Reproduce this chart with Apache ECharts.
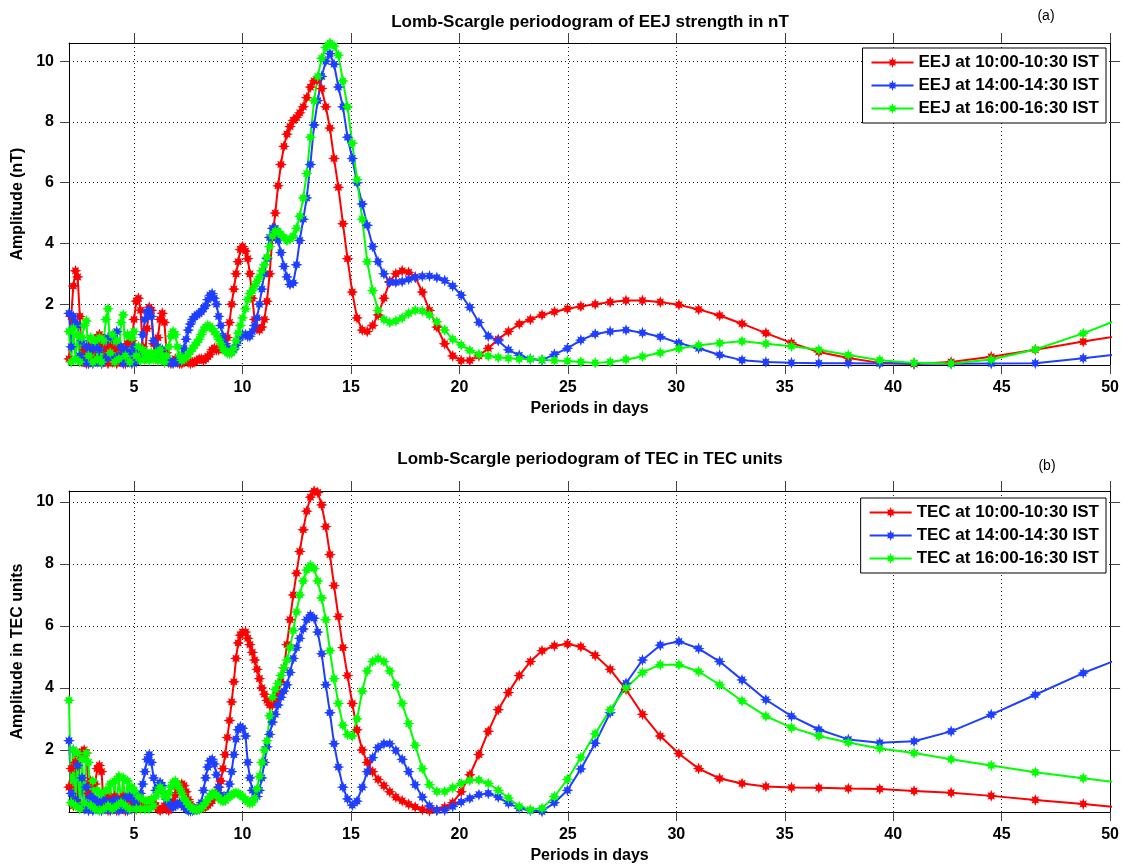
<!DOCTYPE html>
<html lang="en">
<head>
<meta charset="UTF-8">
<title>Lomb-Scargle periodograms</title>
<script src="https://cdn.jsdelivr.net/npm/echarts@6/dist/echarts.min.js"></script>
<style>
    html, body { margin: 0; padding: 0; background: #fff; }
    #box { width: 1122px; height: 865px; }
</style>
</head>
<body>
<div id="box"></div>
<script>
// periods in days (dense below 10 days, frequency grid above)
var periods = [
    2.0, 2.1, 2.2, 2.3, 2.4, 2.5, 2.6, 2.7, 2.8, 2.9,
    3.0, 3.1, 3.2, 3.3, 3.4, 3.5, 3.6, 3.7, 3.8, 3.9,
    4.0, 4.1, 4.2, 4.3, 4.4, 4.5, 4.6, 4.7, 4.8, 4.9,
    5.0, 5.1, 5.2, 5.3, 5.4, 5.5, 5.6, 5.7, 5.8, 5.9,
    6.0, 6.1, 6.2, 6.3, 6.4, 6.5, 6.6, 6.7, 6.8, 6.9,
    7.0, 7.1, 7.2, 7.3, 7.4, 7.5, 7.6, 7.7, 7.8, 7.9,
    8.0, 8.1, 8.2, 8.3, 8.4, 8.5, 8.6, 8.7, 8.8, 8.9,
    9.0, 9.1, 9.2, 9.3, 9.4, 9.5, 9.6, 9.7, 9.8, 9.9,
    10.0,
    10.14, 10.24, 10.34, 10.45, 10.56, 10.67, 10.78, 10.89, 11.01, 11.13,
    11.25, 11.38, 11.51, 11.64, 11.77, 11.91, 12.05, 12.19, 12.34, 12.49,
    12.64, 12.80, 12.96, 13.13, 13.30, 13.47, 13.65, 13.84, 14.03, 14.22,
    14.42, 14.63, 14.84, 15.06, 15.28, 15.52, 15.75, 16.00, 16.25, 16.52,
    16.79, 17.07, 17.36, 17.66, 17.96, 18.29, 18.62, 18.96, 19.32, 19.69,
    20.08, 20.48, 20.90, 21.33, 21.79, 22.26, 22.76, 23.27, 23.81, 24.38,
    24.98, 25.60, 26.26, 26.95, 27.68, 28.44, 29.26, 30.12, 31.03, 32.00,
    33.03, 34.13, 35.31, 36.57, 37.93, 39.38, 40.96, 42.67, 44.52, 46.55,
    48.76, 51.20
];

// (a) EEJ strength, nT
var eejRed = [
    0.2, 1.6, 2.6, 3.1, 2.9, 1.6, 0.1, 0.5, 0.05, 0.6,
    0.1, 0.5, 0.2, 0.9, 1.0, 0.7, 0.1, 0.5, 0.05, 0.6,
    0.1, 0.5, 0.05, 0.6, 0.1, 0.5, 0.05, 0.7, 0.1, 0.8,
    1.5, 2.1, 2.2, 1.8, 0.6, 0.2, 1.2, 1.9, 1.8, 0.7,
    0.2, 0.9, 1.5, 1.7, 1.4, 0.4, 0.1, 0.05, 0.1, 0.2,
    0.1, 0.05, 0.05, 0.1, 0.15, 0.1, 0.05, 0.08, 0.1, 0.15,
    0.2, 0.2, 0.16, 0.2, 0.28, 0.35, 0.5, 0.55, 0.5, 0.5,
    0.55, 0.6, 0.7, 0.9, 1.4, 2.0, 2.5, 3.0, 3.4, 3.8,
    3.9,
    3.75, 3.5, 3.0, 2.2, 1.5, 1.2, 1.15, 1.25, 1.5, 2.1,
    3.0, 4.2, 5.0, 5.9, 6.6, 7.2, 7.6, 7.85, 8.05, 8.15,
    8.3, 8.5, 8.8, 9.15, 9.35, 9.4, 9.1, 8.5, 7.8, 6.8,
    5.85, 4.65, 3.5, 2.4, 1.55, 1.15, 1.1, 1.3, 1.65, 2.2,
    2.75, 3.0, 3.1, 3.05, 2.9, 2.4, 1.8, 1.25, 0.7, 0.3,
    0.15, 0.15, 0.3, 0.55, 0.85, 1.1, 1.35, 1.5, 1.65, 1.75,
    1.85, 1.93, 2.0, 2.07, 2.12, 2.12, 2.07, 1.98, 1.83, 1.63,
    1.36, 1.05, 0.73, 0.43, 0.23, 0.07, 0.03, 0.1, 0.27, 0.5,
    0.77, 1.05
];
var eejBlue = [
    1.7, 0.6, 1.6, 1.4, 1.3, 0.3, 0.8, 0.1, 0.6, 0.05,
    0.5, 0.05, 0.6, 0.1, 0.5, 0.05, 0.8, 0.2, 0.9, 0.3,
    0.9, 0.2, 1.1, 0.3, 0.6, 0.05, 0.5, 0.1, 0.4, 0.05,
    0.6, 0.1, 0.5, 0.2, 1.0, 1.5, 1.75, 1.8, 1.6, 0.8,
    0.3, 0.6, 0.2, 0.5, 0.1, 0.15, 0.1, 0.1, 0.05, 0.1,
    0.1, 0.2, 0.3, 0.55, 0.85, 1.15, 1.35, 1.5, 1.6, 1.65,
    1.7, 1.75, 1.85, 1.95, 2.15, 2.3, 2.35, 2.2, 2.0, 1.6,
    1.3, 0.95, 0.7, 0.55, 0.45, 0.42, 0.5, 0.65, 0.8, 0.95,
    1.0,
    1.0, 0.95, 0.95, 1.1, 1.3, 1.55, 2.0, 2.5, 3.0, 3.5,
    4.2, 4.5, 4.5, 4.1, 3.7, 3.25, 2.9, 2.65, 2.7, 3.3,
    4.1, 4.8, 5.5, 6.6, 7.9, 8.7, 9.5, 10.0, 10.25, 9.9,
    9.15, 8.5, 7.5, 6.8, 6.0, 5.3, 4.6, 3.9, 3.4, 3.0,
    2.72, 2.72, 2.75, 2.82, 2.88, 2.92, 2.93, 2.88, 2.78, 2.6,
    2.3, 1.9, 1.4, 0.95, 0.8, 0.5, 0.32, 0.2, 0.16, 0.35,
    0.55, 0.82, 1.02, 1.1, 1.15, 1.06, 0.93, 0.72, 0.55, 0.33,
    0.16, 0.1, 0.07, 0.06, 0.06, 0.05, 0.05, 0.04, 0.05, 0.06,
    0.22, 0.42
];
var eejGreen = [
    1.1, 0.1, 1.2, 0.2, 1.0, 0.1, 0.9, 1.3, 1.45, 0.3,
    0.9, 0.1, 0.8, 0.2, 0.9, 0.1, 0.8, 1.5, 1.85, 0.4,
    1.0, 0.1, 0.8, 0.2, 1.4, 1.65, 0.3, 1.0, 0.1, 0.9,
    1.1, 0.3, 0.6, 0.15, 0.5, 0.2, 0.4, 0.15, 0.4, 0.2,
    0.4, 0.15, 0.5, 0.3, 0.1, 0.3, 0.6, 0.95, 1.1, 1.0,
    0.6, 0.3, 0.15, 0.2, 0.25, 0.35, 0.45, 0.55, 0.65, 0.75,
    0.85, 1.0, 1.15, 1.25, 1.3, 1.27, 1.2, 1.1, 1.0, 0.85,
    0.7, 0.55, 0.45, 0.4, 0.38, 0.4, 0.55, 0.8, 1.05, 1.3,
    1.55,
    1.85, 2.15, 2.35, 2.45, 2.6, 2.75, 2.9, 3.1, 3.3, 3.55,
    3.9, 4.25, 4.4, 4.4, 4.3, 4.2, 4.1, 4.15, 4.25, 4.5,
    4.9, 5.5, 6.3, 7.5, 8.7, 9.5, 10.1, 10.45, 10.6, 10.5,
    10.2, 9.35, 8.5, 7.3, 6.1, 4.8, 3.4, 2.45, 1.8, 1.5,
    1.4, 1.45, 1.55, 1.7, 1.8, 1.78, 1.65, 1.42, 1.15, 0.85,
    0.66, 0.48, 0.35, 0.3, 0.25, 0.22, 0.2, 0.2, 0.17, 0.15,
    0.13, 0.1, 0.07, 0.1, 0.18, 0.28, 0.4, 0.54, 0.65, 0.72,
    0.78, 0.7, 0.62, 0.5, 0.33, 0.16, 0.07, 0.05, 0.18, 0.51,
    1.04, 1.72
];

// (b) TEC, TEC units
var tecRed = [
    0.8, 1.4, 0.2, 1.6, 0.3, 1.8, 1.95, 2.0, 1.9, 0.6,
    1.0, 0.1, 0.9, 1.4, 1.5, 1.3, 0.2, 0.5, 0.05, 0.4,
    0.1, 0.5, 0.05, 0.4, 0.1, 0.5, 0.05, 0.3, 0.1, 0.4,
    0.2, 0.1, 0.3, 0.15, 0.3, 0.2, 0.3, 0.2, 0.4, 0.3,
    0.2, 0.1, 0.05, 0.1, 0.2, 0.1, 0.05, 0.15, 0.35, 0.55,
    0.75, 0.85, 0.9, 0.85, 0.65, 0.4, 0.25, 0.12, 0.08, 0.1,
    0.12, 0.15, 0.15, 0.18, 0.22, 0.28, 0.38, 0.45, 0.6, 0.8,
    1.0, 1.4, 1.85, 2.4, 2.95, 3.55, 4.2, 4.95, 5.45, 5.7,
    5.8,
    5.8, 5.6, 5.4, 5.15, 4.9, 4.6, 4.3, 4.0, 3.8, 3.6,
    3.45, 3.45, 3.6, 3.85, 4.2, 4.65, 5.4, 6.2, 7.0, 7.7,
    8.4, 9.1, 9.7, 10.15, 10.35, 10.3, 9.9, 9.2, 8.3, 7.3,
    6.3, 5.3, 4.4, 3.5, 2.65, 2.0, 1.6, 1.3, 1.05, 0.85,
    0.65, 0.48, 0.36, 0.25, 0.16, 0.08, 0.04, 0.06, 0.15, 0.3,
    0.65, 1.2, 1.85, 2.6, 3.3, 3.85, 4.4, 4.85, 5.2, 5.36,
    5.42, 5.33, 5.05, 4.6, 3.95, 3.15, 2.45, 1.88, 1.4, 1.08,
    0.92, 0.82, 0.79, 0.78, 0.76, 0.74, 0.68, 0.62, 0.52, 0.39,
    0.26, 0.1
];
var tecBlue = [
    2.3, 0.6, 2.0, 0.4, 1.5, 0.2, 1.1, 0.1, 0.8, 0.05,
    0.5, 0.05, 0.4, 0.1, 0.3, 0.05, 0.4, 0.1, 0.3, 0.05,
    0.35, 0.1, 0.4, 0.05, 0.3, 0.1, 0.45, 0.05, 0.5, 0.1,
    0.4, 0.3, 0.5, 0.6, 0.9, 1.3, 1.7, 1.85, 1.6, 1.1,
    0.7, 0.8, 0.95, 0.85, 0.6, 0.4, 0.3, 0.2, 0.15, 0.2,
    0.25, 0.3, 0.25, 0.15, 0.1, 0.05, 0.03, 0.05, 0.1, 0.08,
    0.1, 0.3, 0.7, 1.1, 1.45, 1.65, 1.7, 1.55, 1.2, 0.8,
    0.55, 0.4, 0.38, 0.55, 0.9, 1.3, 1.85, 2.35, 2.65, 2.75,
    2.7,
    2.45, 1.6, 1.1, 0.7, 0.45, 0.5, 0.7, 1.1, 1.6, 2.1,
    2.5, 2.9, 3.15, 3.45, 3.7, 3.9, 4.1, 4.5, 4.95, 5.3,
    5.6, 5.9, 6.2, 6.35, 6.25, 5.8, 5.1, 4.1, 3.2, 2.2,
    1.45, 0.8, 0.42, 0.22, 0.35, 0.8, 1.3, 1.75, 2.08, 2.2,
    2.2, 1.98, 1.7, 1.3, 0.88, 0.48, 0.2, 0.06, 0.06, 0.18,
    0.32, 0.44, 0.56, 0.6, 0.48, 0.28, 0.12, 0.05, 0.02, 0.3,
    0.7, 1.39, 2.22, 3.2, 4.15, 4.9, 5.38, 5.5, 5.27, 4.85,
    4.26, 3.62, 3.09, 2.66, 2.34, 2.23, 2.28, 2.6, 3.14, 3.78,
    4.48, 5.15
];
var tecGreen = [
    3.6, 0.3, 2.0, 0.2, 1.9, 0.1, 1.7, 0.3, 1.9, 1.6,
    0.2, 1.0, 0.1, 0.7, 0.05, 0.6, 0.1, 0.7, 0.2, 0.9,
    0.1, 1.0, 0.2, 1.15, 0.3, 1.1, 0.2, 1.0, 0.1, 0.8,
    0.7, 0.1, 0.5, 0.1, 0.4, 0.1, 0.35, 0.1, 0.4, 0.2,
    0.5, 0.65, 0.8, 0.7, 0.5, 0.45, 0.6, 0.8, 0.95, 1.0,
    0.9, 0.75, 0.6, 0.45, 0.35, 0.25, 0.15, 0.1, 0.08, 0.08,
    0.1, 0.12, 0.2, 0.3, 0.4, 0.5, 0.6, 0.6, 0.55, 0.45,
    0.38, 0.35, 0.38, 0.45, 0.5, 0.55, 0.6, 0.62, 0.6, 0.55,
    0.5,
    0.4, 0.32, 0.28, 0.3, 0.45, 0.75, 1.15, 1.6, 2.0, 2.3,
    3.1, 3.7, 3.95, 4.15, 4.4, 4.65, 4.9, 5.3, 5.85, 6.45,
    7.0, 7.45, 7.8, 7.95, 7.85, 7.45, 6.9, 6.2, 5.2, 4.3,
    3.5, 2.8, 2.5, 2.45, 3.0, 3.9, 4.55, 4.85, 4.95, 4.85,
    4.55, 4.1, 3.5, 2.85, 2.15, 1.4, 0.88, 0.66, 0.66, 0.78,
    0.92, 1.02, 1.03, 0.92, 0.7, 0.45, 0.18, 0.07, 0.12, 0.5,
    1.05, 1.76, 2.52, 3.3, 4.0, 4.5, 4.75, 4.75, 4.53, 4.1,
    3.58, 3.09, 2.72, 2.45, 2.24, 2.05, 1.9, 1.7, 1.5, 1.28,
    1.09, 0.88
];

var xTicks = [5, 10, 15, 20, 25, 30, 35, 40, 45, 50];
var yTicks = [2, 4, 6, 8, 10];

var FONT = '"Liberation Sans", Arial, Helvetica, sans-serif';
// asterisk-like marker (plus arms long, diagonals shorter)
var star = 'path://M10 0L11.91 5.38L16.01 3.99L14.62 8.09L20 10L14.62 11.91L16.01 16.01L11.91 14.62L10 20L8.09 14.62L3.99 16.01L5.38 11.91L0 10L5.38 8.09L3.99 3.99L8.09 5.38Z';

function pairs(vals) {
    return periods.map(function (p, i) { return [p, vals[i]]; });
}

function line(name, vals, color, g) {
    return {
        name: name,
        type: 'line',
        xAxisIndex: g,
        yAxisIndex: g,
        data: pairs(vals),
        symbol: star,
        symbolSize: 12,
        showSymbol: true,
        clip: true,
        lineStyle: { color: color, width: 2 },
        itemStyle: { color: color },
        emphasis: { disabled: true },
        animation: false
    };
}

var tickLine = { color: '#444', width: 1 };
var boxLine = { show: true, onZero: false, lineStyle: { color: '#000', width: 1 } };
var dotted = { show: true, lineStyle: { color: '#222', type: [1, 3], width: 1 } };
var labelFont = { color: '#000', fontSize: 16, fontWeight: 'bold', fontFamily: FONT };

function xMain(g) {
    return {
        type: 'value', gridIndex: g, position: 'bottom', min: 2, max: 50,
        name: 'Periods in days', nameLocation: 'middle', nameGap: 36,
        nameTextStyle: labelFont,
        axisLine: boxLine,
        axisTick: { show: true, inside: false, length: 9, customValues: xTicks, lineStyle: tickLine },
        axisLabel: Object.assign({ customValues: xTicks, margin: 15 }, labelFont),
        splitLine: dotted
    };
}
function xTop(g) {
    return {
        type: 'value', gridIndex: g, position: 'top', min: 2, max: 50,
        axisLine: boxLine,
        axisTick: { show: true, inside: false, length: 10, customValues: xTicks, lineStyle: tickLine },
        axisLabel: { show: false },
        splitLine: { show: false }
    };
}
function yMain(g, name, max) {
    return {
        type: 'value', gridIndex: g, position: 'left', min: 0, max: max,
        name: name, nameLocation: 'middle', nameGap: 37,
        nameTextStyle: labelFont,
        axisLine: boxLine,
        axisTick: { show: true, inside: false, length: 9, customValues: yTicks, lineStyle: tickLine },
        axisLabel: Object.assign({ customValues: yTicks, margin: 15 }, labelFont),
        splitLine: dotted
    };
}
function yRight(g, max) {
    return {
        type: 'value', gridIndex: g, position: 'right', min: 0, max: max,
        axisLine: boxLine,
        axisTick: { show: true, inside: false, length: 10, customValues: yTicks, lineStyle: tickLine },
        axisLabel: { show: false },
        splitLine: { show: false }
    };
}
function legendAt(top, names) {
    return {
        data: names, orient: 'vertical', right: 16, top: top,
        backgroundColor: '#fff', borderColor: '#000', borderWidth: 1,
        padding: [6, 7, 6, 8], itemWidth: 42, itemHeight: 14, itemGap: 6,
        textStyle: { color: '#000', fontSize: 17, lineHeight: 17, fontWeight: 'bold', fontFamily: FONT },
        selectedMode: false
    };
}
function text(str, x, y, size, weight) {
    return {
        type: 'text', x: x, y: y, silent: true,
        style: {
            text: str, fill: '#000', font: weight + ' ' + size + 'px ' + FONT,
            align: 'center', verticalAlign: 'middle', textAlign: 'center', textVerticalAlign: 'middle'
        }
    };
}

var eejNames = ['EEJ at 10:00-10:30 IST', 'EEJ at 14:00-14:30 IST', 'EEJ at 16:00-16:30 IST'];
var tecNames = ['TEC at 10:00-10:30 IST', 'TEC at 14:00-14:30 IST', 'TEC at 16:00-16:30 IST'];
var RED = '#ff0000', BLUE = '#1f3fff', GREEN = '#00ff00';

var myChart = echarts.init(document.getElementById('box'), null, { renderer: 'canvas' });
var option = {
    backgroundColor: '#fff',
    animation: false,
    grid: [
        { left: 69, top: 43, width: 1043, height: 322 },
        { left: 69, top: 491, width: 1043, height: 322 }
    ],
    xAxis: [xMain(0), xMain(1), xTop(0), xTop(1)],
    yAxis: [
        yMain(0, 'Amplitude (nT)', 10.6),
        yMain(1, 'Amplitude in TEC units', 10.35),
        yRight(0, 10.6),
        yRight(1, 10.35)
    ],
    legend: [legendAt(48, eejNames), legendAt(498, tecNames)],
    graphic: [
        text('Lomb-Scargle periodogram of EEJ strength in nT', 590, 22, 17, 'bold'),
        text('(a)', 1046, 16, 14, 'normal'),
        text('Lomb-Scargle periodogram of TEC in TEC units', 590, 459, 17, 'bold'),
        text('(b)', 1047, 466, 14, 'normal')
    ],
    series: [
        line(eejNames[0], eejRed, RED, 0),
        line(eejNames[1], eejBlue, BLUE, 0),
        line(eejNames[2], eejGreen, GREEN, 0),
        line(tecNames[0], tecRed, RED, 1),
        line(tecNames[1], tecBlue, BLUE, 1),
        line(tecNames[2], tecGreen, GREEN, 1)
    ]
};
myChart.setOption(option);
[eejRed, eejBlue, eejGreen, tecRed, tecBlue, tecGreen].forEach(function (a, i) {
    if (a.length !== periods.length) console.error('series ' + i + ' length ' + a.length + ' vs ' + periods.length);
});
window.addEventListener('resize', myChart.resize);
</script>
</body>
</html>
